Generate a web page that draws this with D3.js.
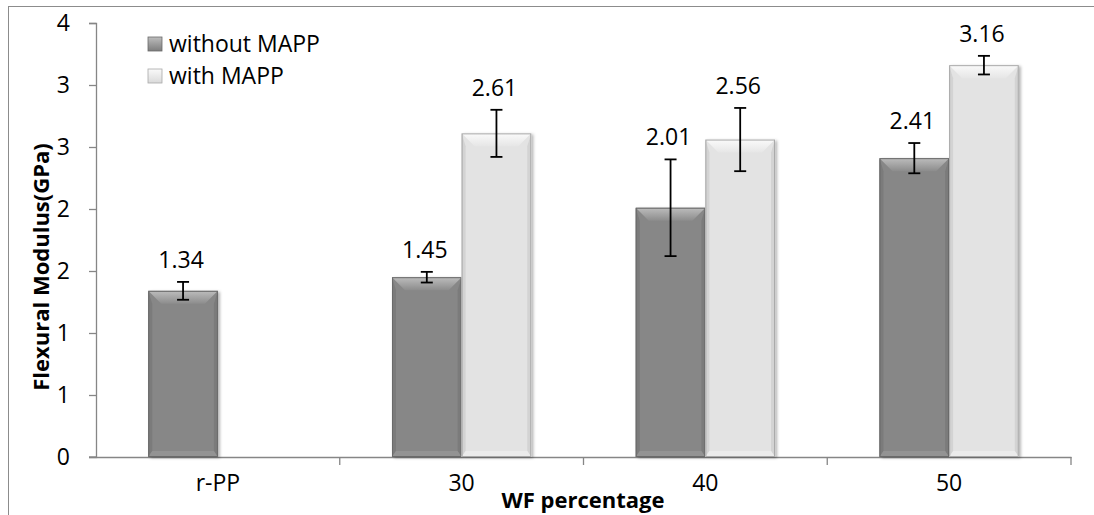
<!DOCTYPE html>
<html>
<head>
<meta charset="utf-8">
<script src="https://cdn.jsdelivr.net/npm/d3@7"></script>
<style>
  html, body { margin: 0; padding: 0; background: #fff; }
  svg text { font-family: "Open Sans", Lato, sans-serif; fill: #000; }
</style>
</head>
<body>
<div id="chart"></div>
<script>
// chart values
var categories = ["r-PP", "30", "40", "50"];
var seriesNames = ["without MAPP", "with MAPP"];
var withoutMAPP = [1.34, 1.45, 2.01, 2.41];
var withMAPP = [null, 2.61, 2.56, 3.16];
var withoutErr = [0.072, 0.043, 0.39, 0.122];
var withErr = [null, 0.19, 0.255, 0.075];
var yTicks = [0, 0.5, 1, 1.5, 2, 2.5, 3, 3.5];
var yTickLabels = ["0", "1", "1", "2", "2", "3", "3", "4"];

var w = 1094, h = 515;
var margin = {left: 96, right: 23, top: 23, bottom: 58};
var FONT = 23;

var svg = d3.select("#chart").append("svg")
    .attr("width", w)
    .attr("height", h);

var defs = svg.append("defs");

// soft drop shadow like the office bevel style
var shadow = defs.append("filter").attr("id", "shadow")
    .attr("x", "-20%").attr("y", "-5%").attr("width", "140%").attr("height", "110%");
shadow.append("feDropShadow")
    .attr("dx", 2).attr("dy", 1).attr("stdDeviation", 1.5)
    .attr("flood-color", "#000").attr("flood-opacity", 0.3);

// colours for the two series: body, top bevel (light to dark), side, outline
var styles = [
    {body: "#878787", top1: "#bdbdbd", top2: "#8c8c8c", side: "#7b7b7b", bottom: "#939393", line: "#6a6a6a", legend: "#7d7d7d"},
    {body: "#e3e3e3", top1: "#fafafa", top2: "#e6e6e6", side: "#d3d3d3", bottom: "#ebebeb", line: "#a9a9a9", legend: "#dadada"}
];
styles.forEach(function (s, i) {
    var g = defs.append("linearGradient").attr("id", "topGrad" + i)
        .attr("x1", 0).attr("y1", 0).attr("x2", 0).attr("y2", 1);
    g.append("stop").attr("offset", "0%").attr("stop-color", s.top1);
    g.append("stop").attr("offset", "100%").attr("stop-color", s.top2);
    var lg = defs.append("linearGradient").attr("id", "legGrad" + i)
        .attr("x1", 0).attr("y1", 0).attr("x2", 0).attr("y2", 1);
    lg.append("stop").attr("offset", "0%").attr("stop-color", s.top1);
    lg.append("stop").attr("offset", "100%").attr("stop-color", s.legend);
});

// outer chart border (only left and top are inside the picture)
svg.append("rect")
    .attr("x", 8.5).attr("y", 6.5)
    .attr("width", w + 20).attr("height", h + 20)
    .attr("fill", "none")
    .attr("stroke", "#8c8c8c")
    .attr("stroke-width", 1);

var x0 = d3.scaleBand()
    .domain(categories)
    .range([margin.left, w - margin.right]);

var x1 = d3.scaleBand()
    .domain([0, 1])
    .range([0, x0.bandwidth()])
    .paddingInner(0)
    .paddingOuter(0.75);

var y = d3.scaleLinear()
    .domain([0, 3.5])
    .range([h - margin.bottom, margin.top]);

// y axis
var yAxis = d3.axisLeft(y)
    .tickValues(yTicks)
    .tickFormat(function (d, i) { return yTickLabels[i]; })
    .tickSize(7)
    .tickPadding(19);

svg.append("g")
    .attr("transform", "translate(" + margin.left + ",0)")
    .call(yAxis)
    .call(function (g) {
        g.select(".domain").attr("stroke", "#868686").attr("stroke-width", 1.3);
        g.selectAll(".tick line").attr("stroke", "#868686").attr("stroke-width", 1.3);
        g.selectAll(".tick text").attr("font-size", FONT).attr("font-family", "Open Sans");
    });

// x axis
var xAxis = d3.axisBottom(x0)
    .tickSize(0)
    .tickPadding(18);

var xg = svg.append("g")
    .attr("transform", "translate(0," + y(0) + ")")
    .call(xAxis);
xg.select(".domain").attr("stroke", "#868686").attr("stroke-width", 1.3);
xg.selectAll(".tick text").attr("font-size", FONT).attr("font-family", "Open Sans");

// tick marks between categories
var boundaries = categories.map(function (c) { return x0(c); }).slice(1).concat([x0.range()[1]]);
xg.selectAll(".sep")
    .data(boundaries)
    .enter().append("line")
    .attr("class", "sep")
    .attr("x1", function (d) { return d; })
    .attr("x2", function (d) { return d; })
    .attr("y1", 0).attr("y2", 8)
    .attr("stroke", "#868686").attr("stroke-width", 1.3);
// extend x axis to the left to meet the y tick
xg.append("line")
    .attr("x1", margin.left - 7).attr("x2", margin.left)
    .attr("y1", 0).attr("y2", 0)
    .attr("stroke", "#868686").attr("stroke-width", 1.3);

// build bar records
var bars = [];
categories.forEach(function (c, i) {
    [withoutMAPP, withMAPP].forEach(function (arr, s) {
        var v = arr[i];
        if (v == null) return;
        var e = s === 0 ? withoutErr[i] : withErr[i];
        bars.push({cat: c, s: s, v: v, err: e});
    });
});

var barG = svg.append("g");

var bar = barG.selectAll(".bar")
    .data(bars)
    .enter().append("g")
    .attr("class", "bar");

bar.each(function (d) {
    var g = d3.select(this);
    var st = styles[d.s];
    var bx = x0(d.cat) + x1(d.s);
    var bw = x1.bandwidth();
    var by = y(d.v);
    var bh = y(0) - by;
    var bev = 13, side = 4, bot = 6;

    g.append("rect")
        .attr("x", bx).attr("y", by)
        .attr("width", bw).attr("height", bh)
        .attr("fill", st.body)
        .attr("filter", "url(#shadow)");

    // side strips
    g.append("polygon")
        .attr("points", [[bx, by], [bx + side, by + bev], [bx + side, y(0) - bot], [bx, y(0)]].join(" "))
        .attr("fill", st.side);
    g.append("polygon")
        .attr("points", [[bx + bw, by], [bx + bw - side, by + bev], [bx + bw - side, y(0) - bot], [bx + bw, y(0)]].join(" "))
        .attr("fill", st.side);
    // bottom band
    g.append("polygon")
        .attr("points", [[bx, y(0)], [bx + side, y(0) - bot], [bx + bw - side, y(0) - bot], [bx + bw, y(0)]].join(" "))
        .attr("fill", st.bottom);
    // top bevel
    g.append("polygon")
        .attr("points", [[bx, by], [bx + bw, by], [bx + bw - bev, by + bev], [bx + bev, by + bev]].join(" "))
        .attr("fill", "url(#topGrad" + d.s + ")");

    g.append("rect")
        .attr("x", bx + 0.5).attr("y", by + 0.5)
        .attr("width", bw - 1).attr("height", bh - 1)
        .attr("fill", "none")
        .attr("stroke", st.line)
        .attr("stroke-width", 1);
});

// error bars
var errG = svg.append("g");
bars.forEach(function (d) {
    var cx = x0(d.cat) + x1(d.s) + x1.bandwidth() / 2;
    var top = y(d.v + d.err), bottom = y(d.v - d.err);
    errG.append("line")
        .attr("x1", cx).attr("x2", cx).attr("y1", top).attr("y2", bottom)
        .attr("stroke", "#000").attr("stroke-width", 1.8);
    [top, bottom].forEach(function (yy) {
        errG.append("line")
            .attr("x1", cx - 6).attr("x2", cx + 6).attr("y1", yy).attr("y2", yy)
            .attr("stroke", "#000").attr("stroke-width", 1.8);
    });
});

// value labels above error bars
svg.append("g").selectAll("text")
    .data(bars)
    .enter().append("text")
    .attr("x", function (d) { return x0(d.cat) + x1(d.s) + x1.bandwidth() / 2 - 2; })
    .attr("y", function (d) { return y(d.v + d.err) - 14; })
    .attr("text-anchor", "middle")
    .attr("font-size", FONT)
    .text(function (d) { return d.v.toFixed(2); });

// legend
var legend = svg.append("g").attr("transform", "translate(148,37)");
seriesNames.forEach(function (name, i) {
    var lg = legend.append("g").attr("transform", "translate(0," + i * 32 + ")");
    lg.append("rect")
        .attr("width", 14).attr("height", 14)
        .attr("fill", "url(#legGrad" + i + ")")
        .attr("stroke", styles[i].line).attr("stroke-width", 0.8);
    lg.append("text")
        .attr("x", 21).attr("y", 14.5)
        .attr("font-size", FONT)
        .text(name);
});

// axis titles
svg.append("text")
    .attr("x", 583).attr("y", 508)
    .attr("text-anchor", "middle")
    .attr("font-size", 22)
    .attr("font-weight", "bold")
    .text("WF percentage");

svg.append("text")
    .attr("transform", "translate(49,267) rotate(-90)")
    .attr("text-anchor", "middle")
    .attr("font-size", 22)
    .attr("font-weight", "bold")
    .text("Flexural Modulus(GPa)");
</script>
</body>
</html>
